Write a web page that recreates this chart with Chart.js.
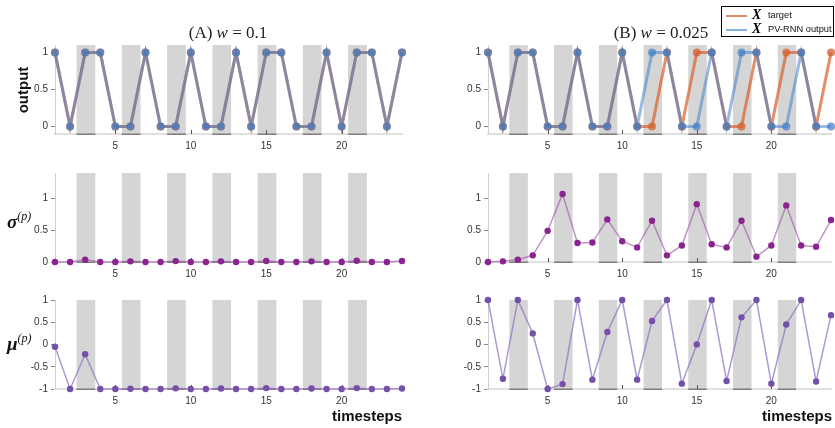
<!DOCTYPE html>
<html>
<head>
<meta charset="utf-8">
<script src="https://cdn.jsdelivr.net/npm/chart.js@4/dist/chart.umd.min.js"></script>
<style>
  body { margin: 0; background: #fff; }
  #page { position: relative; width: 835px; height: 428px; overflow: hidden; background: #fff; font-family: "Liberation Sans", Arial, sans-serif; }
  canvas { position: absolute; }
  .lbl { position: absolute; white-space: nowrap; color: #111; }
  .serif { font-family: "Liberation Serif", "DejaVu Serif", serif; }
  .ttl { font-size: 17px; transform: translate(-50%, -50%); color: #222; }
  .ylab { font-weight: bold; font-size: 15px; }
  .greek { font-family: "Liberation Serif", serif; font-weight: bold; font-style: italic; font-size: 19px; }
  .sup { font-family: "Liberation Serif", serif; font-style: italic; font-size: 12px; position: relative; top: -8px; }
  .tsteps { font-weight: bold; font-size: 15px; transform: translateY(-50%); }
  #legend { position: absolute; left: 721px; top: 6px; width: 111px; height: 29px; border: 1px solid #000; background: #fff; }
  .lg-line { position: absolute; left: 4px; width: 21px; height: 2px; }
  .lg-x { position: absolute; left: 30px; font-family: "Liberation Serif", serif; font-weight: bold; font-style: italic; font-size: 14px; white-space: nowrap; }
  .lg-t { position: absolute; left: 46px; font-size: 9.3px; color: #111; white-space: nowrap; }
</style>
</head>
<body>
<div id="page">
  <canvas id="outA" width="400" height="119" style="left:15px;top:35px"></canvas>
  <canvas id="outB" width="387" height="119" style="left:448px;top:35px"></canvas>
  <canvas id="sigA" width="400" height="118" style="left:15px;top:164px"></canvas>
  <canvas id="sigB" width="387" height="118" style="left:448px;top:164px"></canvas>
  <canvas id="muA" width="400" height="118" style="left:15px;top:291px"></canvas>
  <canvas id="muB" width="387" height="118" style="left:448px;top:291px"></canvas>

  <div class="lbl serif ttl" style="left:228px;top:33px">(A) <i>w</i> = 0.1</div>
  <div class="lbl serif ttl" style="left:661px;top:33px">(B) <i>w</i> = 0.025</div>

  <div class="lbl ylab" style="left:22px;top:90px;transform:translate(-50%,-50%) rotate(-90deg)">output</div>
  <div class="lbl" style="left:7px;top:211px"><span class="greek">σ</span><span class="sup">(p)</span></div>
  <div class="lbl" style="left:7px;top:333px"><span class="greek">μ</span><span class="sup">(p)</span></div>

  <div class="lbl tsteps" style="right:433px;top:415px">timesteps</div>
  <div class="lbl tsteps" style="right:3px;top:415px">timesteps</div>

  <div id="legend">
    <div class="lg-line" style="top:8px;background:rgba(222,130,90,0.9)"></div>
    <div class="lg-x" style="top:0px"><span style="text-decoration:overline">X</span></div>
    <div class="lg-t" style="top:3px">target</div>
    <div class="lg-line" style="top:22px;background:rgba(120,170,220,0.9)"></div>
    <div class="lg-x" style="top:14px">X</div>
    <div class="lg-t" style="top:17px">PV-RNN output</div>
  </div>
</div>
<script>
// time axis
var timesteps = [1, 2, 3, 4, 5, 6, 7, 8, 9, 10, 11, 12, 13, 14, 15, 16, 17, 18, 19, 20, 21, 22, 23, 24];
var xTicks = [5, 10, 15, 20];

// gray bands (timestep intervals)
var shadeStart = [2.43, 5.43, 8.43, 11.43, 14.43, 17.43, 20.43];
var shadeEnd = [3.67, 6.67, 9.67, 12.67, 15.67, 18.67, 21.67];

// output row
var targetSeq = [1, 0, 1, 1, 0, 0, 1, 0, 0, 1, 0, 0, 1, 0, 1, 1, 0, 0, 1, 0, 1, 1, 0, 1];
var outputA = [1, 0, 1, 1, 0, 0, 1, 0, 0, 1, 0, 0, 1, 0, 1, 1, 0, 0, 1, 0, 1, 1, 0, 1];
var outputB = [1, 0, 1, 1, 0, 0, 1, 0, 0, 1, 0, 1, 1, 0, 0, 1, 0, 1, 1, 0, 0, 1, 0, 0];
var outTicks = [0, 0.5, 1];

// sigma row
var sigmaA = [0, 0, 0.035, 0, 0, 0.01, 0, 0, 0.014, 0, 0, 0.01, 0, 0, 0.016, 0, 0, 0.01, 0, 0, 0.02, 0, 0, 0.016];
var sigmaB = [0, 0.01, 0.037, 0.105, 0.49, 1.07, 0.3, 0.306, 0.67, 0.327, 0.23, 0.65, 0.105, 0.26, 0.91, 0.28, 0.23, 0.65, 0.084, 0.26, 0.89, 0.26, 0.24, 0.66];
var sigTicks = [0, 0.5, 1];

// mu row
var muA = [-0.05, -1, -0.22, -1, -1, -0.995, -1, -1, -0.985, -1, -1, -0.99, -1, -1, -0.98, -1, -1, -0.99, -1, -1, -0.98, -1, -1, -0.99];
var muB = [1, -0.77, 1, 0.25, -1, -0.89, 1, -0.79, 0.28, 1, -0.79, 0.53, 1, -0.88, 0, 1, -0.82, 0.61, 1, -0.88, 0.45, 1, -0.83, 0.66];
var muTicks = [-1, -0.5, 0, 0.5, 1];

var FONT = "'Liberation Sans', Arial, sans-serif";

function pts(vals) {
  return vals.map(function (v, i) {
    return { x: timesteps[i], y: v };
  });
}

// gray bands + inward x ticks, drawn through the chart scales
var shadePlugin = {
  id: "shade",
  beforeDatasetsDraw: function (chart) {
    var ctx = chart.ctx;
    var area = chart.chartArea;
    var xs = chart.scales.x;
    ctx.save();
    shadeStart.forEach(function (s, i) {
      var x0 = xs.getPixelForValue(s);
      var x1 = xs.getPixelForValue(shadeEnd[i]);
      ctx.fillStyle = "#d5d5d5";
      ctx.fillRect(x0, area.top, x1 - x0, area.bottom - area.top);
      ctx.fillStyle = "#7d7d7d";
      ctx.fillRect(x0, area.bottom - 0.5, x1 - x0, 1.5);
    });
    ctx.strokeStyle = "#555";
    ctx.lineWidth = 1;
    xTicks.forEach(function (t) {
      var px = Math.round(xs.getPixelForValue(t)) + 0.5;
      ctx.beginPath();
      ctx.moveTo(px, area.bottom);
      ctx.lineTo(px, area.bottom - 4);
      ctx.stroke();
    });
    ctx.restore();
  },
};

function makeChart(id, yMin, yMax, yTicks, datasets, padTop, padRight) {
  return new Chart(document.getElementById(id), {
    type: "line",
    data: { datasets: datasets },
    plugins: [shadePlugin],
    options: {
      responsive: false,
      animation: false,
      layout: { padding: { top: padTop, right: padRight, left: 0, bottom: 0 } },
      plugins: { legend: { display: false }, tooltip: { enabled: false } },
      datasets: { line: { clip: false } },
      scales: {
        x: {
          type: "linear",
          min: 1,
          max: 24,
          afterBuildTicks: function (s) {
            s.ticks = xTicks.map(function (v) { return { value: v }; });
          },
          afterFit: function (s) { s.height = 20; },
          grid: { drawOnChartArea: false, drawTicks: false },
          border: { color: "#e0e0e0", width: 2 },
          ticks: { font: { size: 10, family: FONT }, color: "#333", padding: 6, maxRotation: 0 },
        },
        y: {
          min: yMin,
          max: yMax,
          afterBuildTicks: function (s) {
            s.ticks = yTicks.map(function (v) { return { value: v }; });
          },
          afterFit: function (s) { s.width = 40; },
          grid: { drawOnChartArea: false, tickLength: 4, color: "#888" },
          border: { color: "#cfcfcf", width: 1 },
          ticks: {
            font: { size: 10, family: FONT },
            color: "#333",
            padding: 3,
            callback: function (v) { return String(v); },
          },
        },
      },
    },
  });
}

function outSets(out) {
  return [
    {
      data: pts(out),
      borderColor: "rgba(70,130,200,0.55)",
      backgroundColor: "rgba(60,125,200,0.7)",
      borderWidth: 3,
      pointRadius: 4,
      pointBorderWidth: 0,
      tension: 0,
    },
    {
      data: pts(targetSeq),
      borderColor: "rgba(215,95,45,0.7)",
      backgroundColor: "rgba(215,95,45,0.75)",
      borderWidth: 3,
      pointRadius: 4,
      pointBorderWidth: 0,
      tension: 0,
    },
  ];
}

function sigSet(vals) {
  return [{
    data: pts(vals),
    borderColor: "rgba(160,90,170,0.65)",
    backgroundColor: "#8a2490",
    borderWidth: 1.5,
    pointRadius: 3.2,
    pointBorderWidth: 0,
    tension: 0,
  }];
}

function muSet(vals) {
  return [{
    data: pts(vals),
    borderColor: "rgba(140,110,195,0.7)",
    backgroundColor: "#7550a8",
    borderWidth: 1.5,
    pointRadius: 3.2,
    pointBorderWidth: 0,
    tension: 0,
  }];
}

makeChart("outA", -0.1, 1.1, outTicks, outSets(outputA), 10, 13);
makeChart("outB", -0.1, 1.1, outTicks, outSets(outputB), 10, 1);
makeChart("sigA", 0, 1.4, sigTicks, sigSet(sigmaA), 8, 13);
makeChart("sigB", 0, 1.4, sigTicks, sigSet(sigmaB), 8, 1);
makeChart("muA", -1, 1, muTicks, muSet(muA), 8, 13);
makeChart("muB", -1, 1, muTicks, muSet(muB), 8, 1);
</script>
</body>
</html>
